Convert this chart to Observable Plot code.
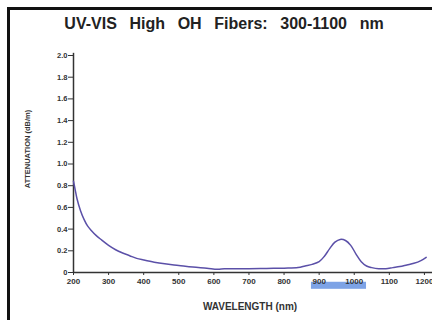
<!DOCTYPE html>
<html>
<head>
<meta charset="utf-8">
<script src="https://cdn.jsdelivr.net/npm/d3@7"></script>
<script src="https://cdn.jsdelivr.net/npm/@observablehq/plot@0.6"></script>
<style>
  html, body { margin: 0; padding: 0; background: #fff; }
  #wrap { position: relative; width: 432px; height: 320px; overflow: hidden; font-family: "Liberation Sans", Arial, sans-serif; }
  #frame { position: absolute; left: 7px; top: 7px; width: 440px; height: 330px; border-left: 3px solid #111; border-top: 3px solid #111; }
  #title { position: absolute; left: 8px; width: 432px; top: 15px; text-align: center; font-weight: bold; font-size: 16px; color: #222; white-space: pre; word-spacing: 8.2px; }
  #chart { position: absolute; left: 0; top: 0; }
</style>
</head>
<body>
<div id="wrap">
  <div id="chart"></div>
  <div id="frame"></div>
  <div id="title">UV-VIS High OH Fibers: 300-1100 nm</div>
</div>
<script>
const wavelength = [200, 205, 210, 220, 230, 240, 250, 265, 280, 300, 320, 340, 360, 380, 400, 430, 460, 500, 540, 580, 610, 630, 660, 700, 750, 800, 840, 860, 880, 900, 915, 930, 945, 960, 975, 990, 1005, 1020, 1035, 1050, 1070, 1090, 1110, 1130, 1150, 1170, 1190, 1205];
const attenuation = [0.84, 0.76, 0.68, 0.57, 0.49, 0.43, 0.39, 0.34, 0.30, 0.25, 0.21, 0.18, 0.155, 0.13, 0.115, 0.095, 0.08, 0.065, 0.05, 0.04, 0.03, 0.035, 0.035, 0.035, 0.038, 0.04, 0.045, 0.06, 0.075, 0.10, 0.15, 0.22, 0.28, 0.305, 0.295, 0.25, 0.17, 0.10, 0.06, 0.045, 0.035, 0.035, 0.045, 0.055, 0.07, 0.085, 0.11, 0.14];
const xTicks = [200, 300, 400, 500, 600, 700, 800, 900, 1000, 1100, 1200];
const yTicks = [0, 0.2, 0.4, 0.6, 0.8, 1.0, 1.2, 1.4, 1.6, 1.8, 2.0];
const highlightRange = [878, 1035];
const xLabel = "WAVELENGTH (nm)";
const yLabel = "ATTENUATION (dB/m)";

const data = wavelength.map((w, i) => ({w, a: attenuation[i]}));

const chart = Plot.plot({
  width: 432,
  height: 320,
  marginLeft: 73,
  marginRight: 0,
  marginTop: 55,
  marginBottom: 48,
  style: {fontFamily: "'Liberation Sans', Arial, sans-serif", fontSize: "8px", fontWeight: "bold", color: "#333", background: "transparent", overflow: "visible"},
  x: {domain: [200, 1223], label: null},
  y: {domain: [0, 2], label: null},
  marks: [
    Plot.rect([highlightRange], {x1: d => d[0], x2: d => d[1], y1: -0.09, y2: -0.155, fill: "#7da3e6", clip: false}),
    Plot.axisX({ticks: xTicks, tickFormat: d => String(d), tickSize: 3, tickPadding: 3, fontSize: 8, fontWeight: "bold", fill: "#333"}),
    Plot.axisY({ticks: yTicks, tickFormat: d => d === 0 ? "0" : d.toFixed(1), tickSize: 5, tickPadding: 1, fontSize: 7.5, fontWeight: "bold", fill: "#333"}),
    Plot.ruleY([0], {stroke: "#333", strokeWidth: 1.5}),
    Plot.ruleX([200], {y1: 0, y2: 2.02, stroke: "#333", strokeWidth: 1.5}),
    Plot.line(data, {x: "w", y: "a", stroke: "#5b50a8", strokeWidth: 1.5, curve: "catmull-rom"}),
    Plot.text([xLabel], {frameAnchor: "bottom", textAnchor: "middle", dx: -3, dy: 37, fontSize: 10, fontWeight: "bold", fill: "#333"}),
    Plot.text([yLabel], {frameAnchor: "left", textAnchor: "middle", dx: -46, dy: -15, rotate: -90, fontSize: 7.5, fontWeight: "bold", fill: "#333"})
  ]
});
document.getElementById("chart").appendChild(chart);
</script>
</body>
</html>
